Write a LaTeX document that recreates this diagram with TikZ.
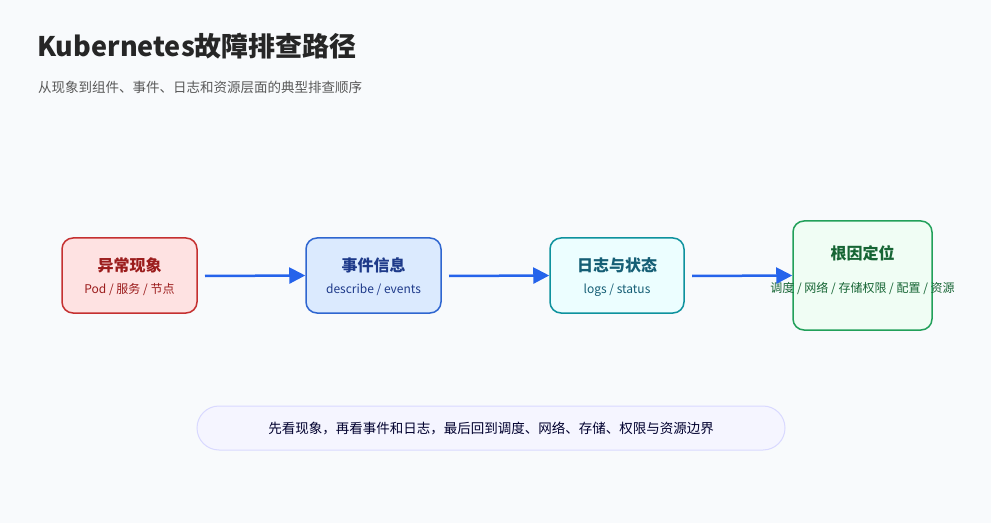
\documentclass[tikz,border=0pt]{standalone}
\usepackage{fontspec}
\setmainfont{Noto Sans CJK SC}
\usetikzlibrary{arrows.meta}
\definecolor{bg}{HTML}{F8FAFC}
\definecolor{rfill}{HTML}{FEE2E2}\definecolor{rdraw}{HTML}{C53030}\definecolor{rtext}{HTML}{9B1C1C}
\definecolor{bfill}{HTML}{DBEAFE}\definecolor{bdraw}{HTML}{2F66D0}\definecolor{btext}{HTML}{1E3A8A}
\definecolor{tfill}{HTML}{ECFEFF}\definecolor{tdraw}{HTML}{0E929E}\definecolor{ttext}{HTML}{155E75}
\definecolor{gfill}{HTML}{F0FDF4}\definecolor{gdraw}{HTML}{22A05A}\definecolor{gtext}{HTML}{166534}
\definecolor{arr}{HTML}{2563EB}
\tikzset{
 box/.style={rounded corners=11pt,line width=1.5pt,align=center,inner sep=0pt},
 ttl/.style={font=\fontsize{16}{18}\selectfont\bfseries},
 sub/.style={font=\fontsize{12}{19}\selectfont},
 flow/.style={draw=arr,line width=2.5pt,-{Triangle[length=16pt,width=16pt]}}
}
\begin{document}
\begin{tikzpicture}[x=1pt,y=1pt]
\fill[bg] (0,0) rectangle (991,523);
\useasboundingbox (0,0) rectangle (991,523);
\node[anchor=base west,inner sep=0pt,font=\fontsize{27}{30}\selectfont\bfseries,text=black!85] (title) at (37,466) {Kubernetes故障排查路径};
\node[anchor=base west,inner sep=0pt,font=\fontsize{13.5}{16}\selectfont,text=black!65] (subt) at (38,430) {从现象到组件、事件、日志和资源层面的典型排查顺序};
\node[box,fill=rfill,draw=rdraw,minimum width=135pt,minimum height=75pt] (n1) at (129.5,247.5) {};
\node[ttl,text=rtext] (n1t) at (129.5,258) {异常现象};
\node[sub,text=rtext] (n1s) at (129.5,233) {Pod / 服务 / 节点};
\node[box,fill=bfill,draw=bdraw,minimum width=135pt,minimum height=75pt] (n2) at (373.5,247.5) {};
\node[ttl,text=btext] (n2t) at (373.5,258) {事件信息};
\node[sub,text=btext] (n2s) at (373.5,233) {describe / events};
\node[box,fill=tfill,draw=tdraw,minimum width=134pt,minimum height=75pt] (n3) at (617,247.5) {};
\node[ttl,text=ttext] (n3t) at (617,258) {日志与状态};
\node[sub,text=ttext] (n3s) at (617,233) {logs / status};
\node[box,fill=gfill,draw=gdraw,minimum width=139pt,minimum height=109pt] (n4) at (862.5,247.5) {};
\node[ttl,text=gtext] (n4t) at (862.5,270) {根因定位};
\node[sub,text=gtext] (n4s) at (862.5,234.5) {调度 / 网络 / 存储\\权限 / 配置 / 资源};
\draw[flow] (205,247) -- (n2.west);
\draw[flow] (449,247) -- (n3.west);
\draw[flow] (692,247) -- (n4.west);
\node[rounded corners=22pt,fill=blue!4,draw=blue!15,line width=1pt,minimum width=588pt,minimum height=44pt,font=\fontsize{13.5}{16}\selectfont,text=black!70!blue!60!black] (note) at (491,95) {先看现象，再看事件和日志，最后回到调度、网络、存储、权限与资源边界};
\end{tikzpicture}
\end{document}
